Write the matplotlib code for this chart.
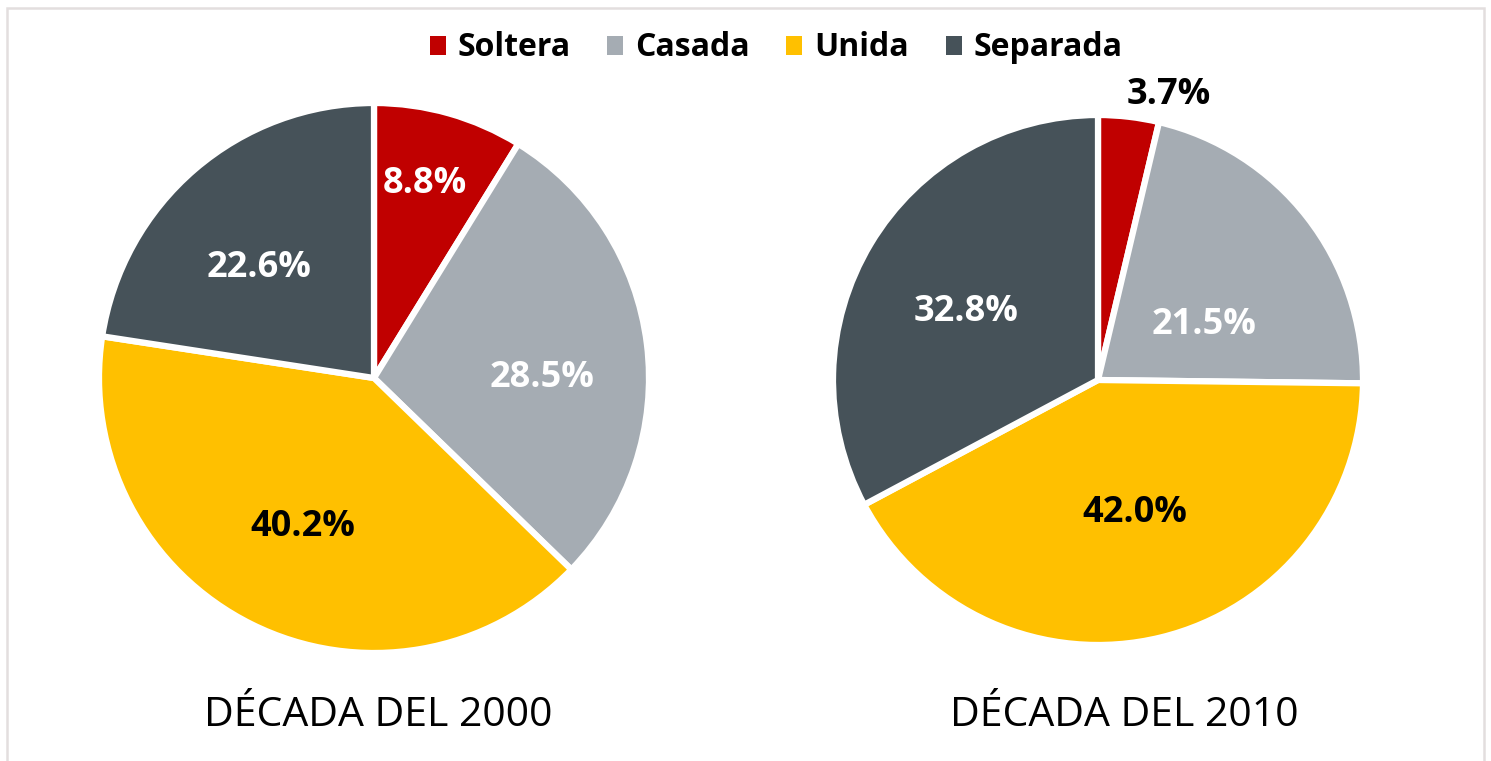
import numpy as np
import matplotlib.pyplot as plt
from matplotlib.patches import Rectangle, Patch

categories = ["Soltera", "Casada", "Unida", "Separada"]
values_2000 = [8.8, 28.5, 40.2, 22.6]
values_2010 = [3.7, 21.5, 42.0, 32.8]
titles = ["DÉCADA DEL 2000", "DÉCADA DEL 2010"]

colors = ["#C00000", "#A5ACB3", "#FFC000", "#465259"]
label_colors_2000 = ["white", "white", "black", "white"]
label_colors_2010 = ["black", "white", "black", "white"]
# radial distance and angular shift of each label (fraction of radius, degrees)
label_pos_2000 = [(0.73, 1.0), (0.61, -7.0), (0.60, 0.8), (0.58, 5.7)]
label_pos_2010 = [(1.11, -7.3), (0.45, -10.6), (0.52, 1.6), (0.56, 3.7)]

W, H = 1491, 761
fig = plt.figure(figsize=(W / 100, H / 100), dpi=100)
plt.rcParams['font.family'] = ['Open Sans', 'DejaVu Sans']

fig.patches.append(Rectangle((7 / W, -0.02), (1484 - 7) / W, 1.02 - 8 / H,
                             transform=fig.transFigure, fill=False,
                             edgecolor="#E3DEDE", linewidth=1.8, zorder=0))


def draw_pie(cx, cy, r, vals, lcolors, lpos, title, tx, ty):
    ax = fig.add_axes([cx / W - r / W, (H - cy) / H - r / H, 2 * r / W, 2 * r / H])
    wedges, _ = ax.pie(vals, colors=colors, startangle=90, counterclock=False,
                       radius=1.0,
                       wedgeprops=dict(edgecolor="white", linewidth=4.5))
    ax.set_xlim(-1, 1)
    ax.set_ylim(-1, 1)
    ax.set_aspect("auto")
    ax.axis("off")
    for w, v, c, (d, sh) in zip(wedges, vals, lcolors, lpos):
        ang = np.deg2rad((w.theta1 + w.theta2) / 2 + sh)
        ax.text(d * np.cos(ang), d * np.sin(ang), f"{v:.1f}%", ha="center",
                va="center", color=c, fontsize=26, fontweight="bold",
                clip_on=False)
    fig.text(tx / W, (H - ty) / H, title, ha="center", va="center",
             fontsize=29.5, color="black")


draw_pie(374, 378, 275, values_2000, label_colors_2000, label_pos_2000,
         titles[0], 378, 716)
draw_pie(1098, 380, 265, values_2010, label_colors_2010, label_pos_2010,
         titles[1], 1124, 716)

handles = [Patch(facecolor=c, edgecolor="none") for c in colors]
fig.legend(handles, categories, loc="center", bbox_to_anchor=(776 / W, (H - 48) / H),
           ncol=4, frameon=False, prop=dict(size=23, weight="bold"),
           handlelength=0.5, handleheight=0.55, handletextpad=0.37,
           columnspacing=1.15)

fig.savefig("out.png", dpi=100)
